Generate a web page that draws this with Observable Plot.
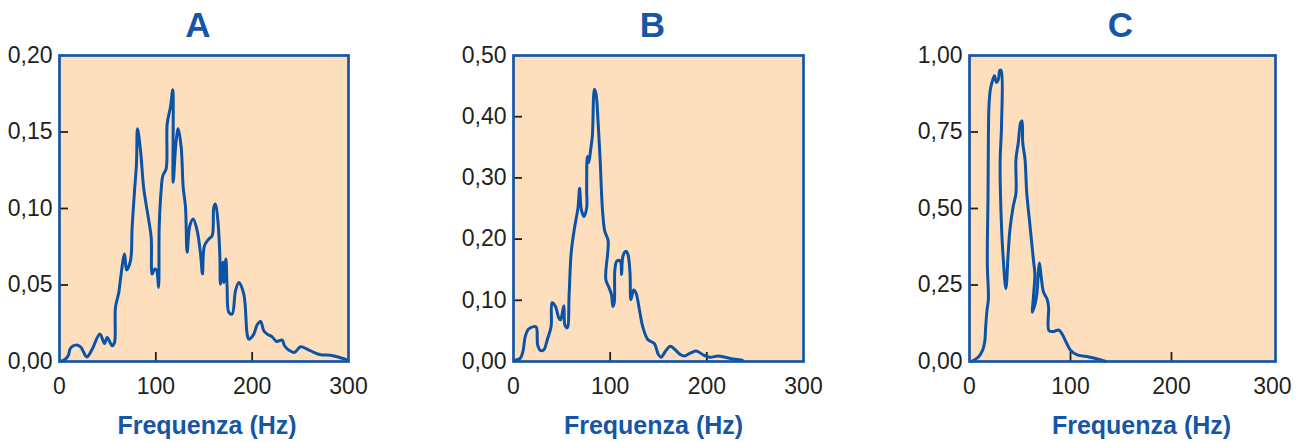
<!DOCTYPE html>
<html><head><meta charset="utf-8">
<script src="https://cdn.jsdelivr.net/npm/d3@7"></script>
<script src="https://cdn.jsdelivr.net/npm/@observablehq/plot@0.6"></script>
<style>
body{margin:0;background:#fff;}
#wrap{position:relative;width:1302px;height:442px;overflow:hidden;background:#fff;}
#wrap svg{position:absolute;top:0;}
</style></head><body><div id="wrap"></div>
<script>
// ---- data ----
const xTicks = [0, 100, 200, 300];
const xInnerTicks = [100, 200];
const xLabel = "Frequenza (Hz)";

const titleA = "A";
const yTicksA = [0, 0.05, 0.10, 0.15, 0.20];
const freqA = [1,6,9,11.4,16.6,21.8,27,28.7,33.9,41.9,46.7,49.5,54.7,57.1,58.1,61.6,63.3,67.5,69.6,73.7,75.4,77.9,79.9,81,84.1,87.5,92.7,95.2,96.2,98.6,100.7,102.8,103.5,105.5,107.3,110.7,111.8,115.2,117.6,118,120.8,123.2,126.3,128.4,130.8,132.5,135.3,138.8,142.9,146.4,148.4,150.5,155,158.5,160.2,161.9,164.4,166.4,167.1,169.6,170.6,172.7,174,175.8,179.2,182.7,186.2,191.3,194.8,196.5,201.7,205.2,208.7,212.1,215.6,220.8,225.3,231.1,233.6,238.1,243.9,250.2,257.1,264,270.9,281.3,288.2,298.6];
const valA = [0,0.0015,0.0037,0.0087,0.0107,0.0096,0.0037,0.003,0.008,0.0179,0.0118,0.0157,0.0103,0.0124,0.0353,0.0452,0.0539,0.0703,0.0598,0.0659,0.0877,0.1117,0.1292,0.1521,0.1379,0.1128,0.0921,0.081,0.0572,0.0604,0.0598,0.0484,0.0877,0.1117,0.1215,0.1259,0.1554,0.1663,0.1776,0.1172,0.1423,0.1521,0.1401,0.1139,0.1008,0.0714,0.0888,0.0932,0.0855,0.0703,0.0572,0.0757,0.0801,0.0823,0.1008,0.1030,0.0921,0.0703,0.0506,0.0648,0.0517,0.0670,0.0484,0.0321,0.0310,0.0463,0.0517,0.0441,0.0179,0.0146,0.0179,0.0240,0.0262,0.0201,0.0179,0.0161,0.0131,0.0140,0.0103,0.0074,0.0059,0.0096,0.0081,0.0059,0.0044,0.0041,0.0031,0.0011];

const titleB = "B";
const yTicksB = [0, 0.10, 0.20, 0.30, 0.40, 0.50];
const freqB = [1.7,6.9,9.7,12.2,15.6,20.8,23.6,25,27.8,31.3,35.4,38.9,39.9,43.4,46.9,48.6,52.1,53.1,55.6,57.6,59.7,63.2,66.7,68.4,70.1,72.9,75.7,75.7,76.4,77.8,79.9,81.6,83.7,85.4,87.5,89.6,92,94.4,97.9,95.5,99,101.4,102.8,104.2,104.9,106.9,110.4,111.8,113.2,116.3,118.4,120.5,121.5,124.3,126.7,130.2,133.7,138.9,145.8,150,152.8,156.9,162.2,166.7,172.9,177.1,183.3,189.2,196.2,203.1,211.8,218.8,227.4,236.8];
const valB = [0.002,0.005,0.016,0.041,0.053,0.057,0.056,0.027,0.018,0.019,0.038,0.057,0.096,0.090,0.071,0.068,0.091,0.060,0.055,0.112,0.178,0.219,0.251,0.283,0.249,0.237,0.251,0.281,0.335,0.325,0.347,0.369,0.445,0.437,0.391,0.331,0.249,0.213,0.197,0.134,0.120,0.109,0.090,0.096,0.150,0.164,0.164,0.142,0.172,0.180,0.175,0.145,0.101,0.117,0.112,0.085,0.057,0.036,0.029,0.011,0.007,0.016,0.025,0.020,0.011,0.009,0.014,0.017,0.011,0.007,0.009,0.007,0.004,0.002];

const titleC = "C";
const yTicksC = [0, 0.25, 0.50, 0.75, 1.00];
const freqC = [1.7,8.3,12.7,15,16,17.3,18.7,17.7,17.7,18.3,18.7,19.3,20.7,23.3,24.7,26.7,28.7,30,31.3,31.7,30.3,31.7,33.3,36,38.3,40,43.3,46,46,48.3,50.7,52,52.7,55,56.7,60,63.3,64.7,63.3,62.3,65,66.7,68.3,69.3,71,73.3,76.7,78.3,78.7,83.3,88.3,91.7,95.7,100,106.7,118.3,126.7,135];
const valC = [0,0.013,0.035,0.063,0.112,0.167,0.205,0.309,0.397,0.528,0.726,0.836,0.890,0.923,0.934,0.912,0.923,0.951,0.951,0.770,0.649,0.441,0.342,0.238,0.353,0.430,0.507,0.550,0.660,0.715,0.781,0.786,0.715,0.660,0.550,0.441,0.331,0.287,0.211,0.161,0.189,0.221,0.298,0.322,0.276,0.227,0.205,0.178,0.101,0.098,0.103,0.090,0.063,0.037,0.022,0.015,0.008,0];

// ---- layout / style ----
const W = 434, H = 442, MT = 55, MB = 81;
const BG = "#fddfbe", BLUE = "#0b53a6", FRAME = "#1656a6", INK = "#231f20";
const FONT = "'Liberation Sans', Arial, Helvetica, sans-serif";

const panels = [
  {title: titleA, freq: freqA, val: valA, yTicks: yTicksA, xMax: 300, left: 0,   ml: 59,  mr: 86, tdx: -6, ldx: 3},
  {title: titleB, freq: freqB, val: valB, yTicks: yTicksB, xMax: 300, left: 434, ml: 79,  mr: 65, tdx: -6, ldx: -5},
  {title: titleC, freq: freqC, val: valC, yTicks: yTicksC, xMax: 303, left: 868, ml: 101, mr: 27, tdx: -2, ldx: 19}
];

const wrap = document.getElementById("wrap");
for (const p of panels) {
  const data = p.freq.map((f, i) => ({f, v: p.val[i]}));
  const fw = W - p.ml - p.mr, fh = H - MT - MB;
  const yMax = p.yTicks[p.yTicks.length - 1];
  const svg = Plot.plot({
    width: W, height: H,
    marginLeft: p.ml, marginRight: p.mr, marginTop: MT, marginBottom: MB,
    style: {fontFamily: FONT, fontSize: "23px", color: INK, background: "transparent", overflow: "visible"},
    x: {domain: [0, p.xMax]},
    y: {domain: [0, yMax]},
    marks: [
      Plot.frame({fill: BG, stroke: null}),
      Plot.tickY(p.yTicks.slice(1, -1), {y: d => d, insetRight: fw - 9, stroke: INK, strokeWidth: 1.8}),
      Plot.tickX(xInnerTicks, {x: d => d, insetTop: fh - 9, stroke: INK, strokeWidth: 1.8}),
      Plot.line(data, {x: "f", y: "v", curve: "catmull-rom", stroke: BLUE, strokeWidth: 3, strokeLinejoin: "round", strokeLinecap: "round"}),
      Plot.frame({stroke: FRAME, strokeWidth: 2.7}),
      Plot.axisY(p.yTicks, {tickSize: 0, tickPadding: 7, tickFormat: d => d.toFixed(2).replace(".", ","), label: null, fill: INK}),
      Plot.axisX(xTicks, {tickSize: 0, tickPadding: 16, tickFormat: d => String(d), label: null, fill: INK}),
      Plot.text([p.title], {frameAnchor: "top", dx: p.tdx, dy: -19, lineAnchor: "bottom", fontSize: 35, fontWeight: "bold", fill: FRAME}),
      Plot.text([xLabel], {frameAnchor: "bottom", dx: p.ldx, dy: 72, lineAnchor: "bottom", fontSize: 25, fontWeight: "bold", fill: FRAME})
    ]
  });
  svg.style.left = p.left + "px";
  wrap.appendChild(svg);
}
</script>
</body></html>
